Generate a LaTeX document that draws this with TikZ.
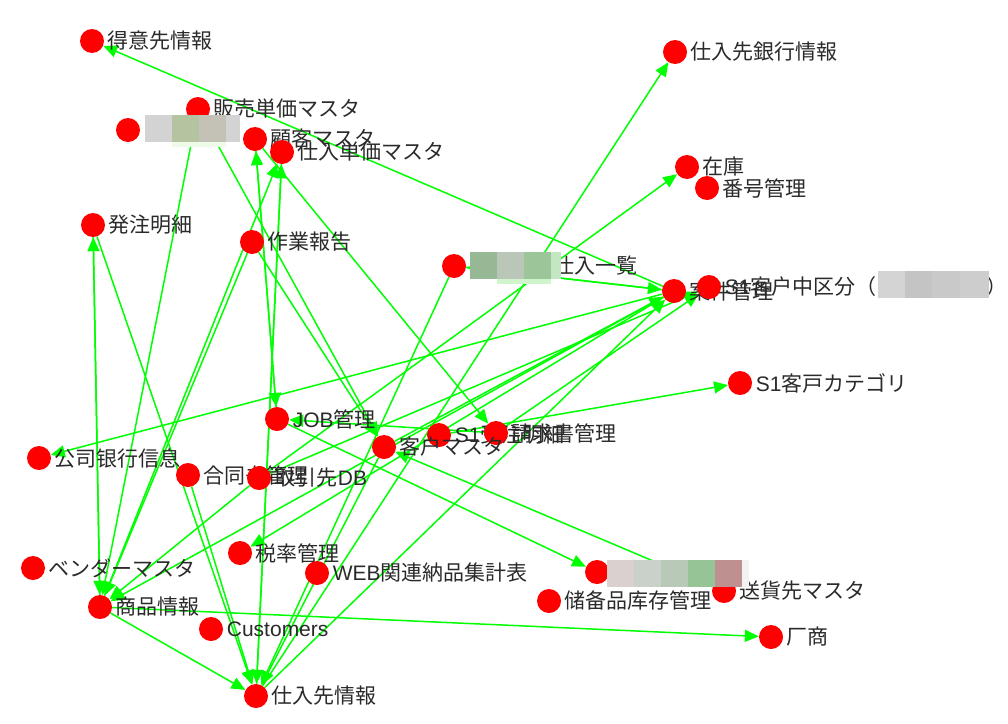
\documentclass[tikz,border=0pt]{standalone}
\usepackage{fontspec}
\setmainfont{Liberation Sans}
\newfontfamily\cjk{Noto Sans CJK JP}
\usetikzlibrary{arrows.meta}
\pgfdeclarelayer{background}
\pgfsetlayers{background,main}
\definecolor{NodeRed}{HTML}{FF0000}
\definecolor{LinkGreen}{HTML}{00FF00}
\definecolor{LabelGray}{HTML}{2A2A2A}
\definecolor{MosaicA1}{HTML}{D3D3D3}
\definecolor{MosaicA2}{HTML}{B5C4A0}
\definecolor{MosaicA3}{HTML}{C4C2B6}
\definecolor{MosaicA4}{HTML}{EEFBE8}
\definecolor{MosaicB1}{HTML}{97B894}
\definecolor{MosaicB2}{HTML}{BAC7B8}
\definecolor{MosaicB3}{HTML}{9DC59A}
\definecolor{MosaicB4}{HTML}{C5E6C2}
\definecolor{MosaicB5}{HTML}{D0F5CC}
\definecolor{MosaicC1}{HTML}{D4D4D4}
\definecolor{MosaicC2}{HTML}{C4C4C4}
\definecolor{MosaicC3}{HTML}{C9C9C9}
\definecolor{MosaicC4}{HTML}{CDCDCD}
\definecolor{MosaicD1}{HTML}{DAD0D0}
\definecolor{MosaicD2}{HTML}{CAD1CA}
\definecolor{MosaicD3}{HTML}{B8C9B8}
\definecolor{MosaicD4}{HTML}{97C497}
\definecolor{MosaicD5}{HTML}{BF9090}
\definecolor{MosaicD6}{HTML}{F2F2F2}
\newcommand\lat[1]{{\rmfamily #1}}

\begin{document}
\begin{tikzpicture}[x=1pt,y=-1pt,label distance=3.5pt,
  ent/.style={circle,fill=NodeRed,minimum size=24pt,inner sep=0pt},
  lbl/.style={font=\cjk\fontsize{21pt}{21pt}\selectfont,text=LabelGray,inner sep=0pt},
  link/.style={draw=LinkGreen,line width=1.5pt,-{Triangle[length=14pt,width=12pt]}}]
\useasboundingbox (0,0) rectangle (1008,723);
\node [ent,label={[lbl]right:得意先情報}] (tokui) at (92,41) {};
\node [ent,label={[lbl]right:販売単価マスタ}] (hanbai) at (198,109) {};
\node [ent] (blurA) at (128,130) {};
\node [ent,label={[lbl]right:顧客マスタ}] (kokyaku) at (255,139) {};
\node [ent,label={[lbl]right:仕入単価マスタ}] (tanka) at (282,152) {};
\node [ent,label={[lbl]right:仕入先銀行情報}] (ginko) at (675,52) {};
\node [ent,label={[lbl]right:在庫}] (zaiko) at (687,167) {};
\node [ent,label={[lbl]right:番号管理}] (bangou) at (707,188) {};
\node [ent,label={[lbl]right:発注明細}] (hacchu) at (93,225) {};
\node [ent,label={[lbl]right:作業報告}] (sagyo) at (252,242) {};
\node [ent,label={[lbl]right:{\hspace{84pt}仕入一覧}}] (ichiran) at (454,266) {};
\node [ent,label={[lbl]right:案件管理}] (anken) at (674,291) {};
\node [ent,label={[lbl]right:{\lat{S1}客户中区分（\hspace{110pt}）}}] (kubun) at (709,287) {};
\node [ent,label={[lbl]right:{\lat{S1}客戸カテゴリ}}] (category) at (740,383) {};
\node [ent,label={[lbl]right:{\lat{JOB}管理}}] (job) at (277,419) {};
\node [ent,label={[lbl]right:{\lat{S1}受注明細}}] (juchu) at (439,435) {};
\node [ent,label={[lbl]right:請求書管理}] (seikyu) at (496,433) {};
\node [ent,label={[lbl]right:客户マスタ}] (kyakuCN) at (384,447) {};
\node [ent,label={[lbl]right:公司银行信息}] (koushi) at (39,458) {};
\node [ent,label={[lbl]right:合同书管理}] (goudou) at (188,475) {};
\node [ent,label={[lbl]right:{取引先\lat{DB}}}] (torihiki) at (259,478) {};
\node [ent,label={[lbl]right:ベンダーマスタ}] (vendor) at (33,568) {};
\node [ent,label={[lbl]right:税率管理}] (zeiritsu) at (240,553) {};
\node [ent,label={[lbl]right:{\lat{WEB}関連納品集計表}}] (web) at (317,573) {};
\node [ent,label={[lbl]right:商品情報}] (shohin) at (100,607) {};
\node [ent,label={[lbl]right:{\lat{Customers}}}] (customers) at (211,629) {};
\node [ent,label={[lbl]right:仕入先情報}] (shiire) at (256,696) {};
\node [ent] (blurB) at (597,572) {};
\node [ent,label={[lbl]right:储备品库存管理}] (bichiku) at (549,601) {};
\node [ent,label={[lbl]right:送貨先マスタ}] (souka) at (724,591) {};
\node [ent,label={[lbl]right:厂商}] (kosho) at (771,637) {};
% links behind the nodes
\begin{pgfonlayer}{background}
\draw [link] (anken) -- (tokui);
\draw [link] (hanbai) -- (kyakuCN);
\draw [link] (hanbai) -- (shohin);
\draw [link] (shiire) -- (ginko);
\draw [link] (torihiki) -- (zaiko);
\draw [link] (ichiran) -- (anken);
\draw [link] (anken) -- (ichiran);
\draw [link] (ichiran) -- (shiire);
\draw [link] (kokyaku) -- (seikyu);
\draw [link] (shohin) -- (tanka);
\draw [link] (shiire) -- (tanka);
\draw [link] (tanka) -- (shiire);
\draw [link] (job) -- (kokyaku);
\draw [link] (kokyaku) -- (job);
\draw [link] (sagyo) -- (kyakuCN);
\draw [link] (sagyo) -- (shohin);
\draw [link] (seikyu) -- (job);
\draw [link] (juchu) -- (category);
\draw [link] (anken) -- (koushi);
\draw [link] (anken) -- (zeiritsu);
\draw [link] (anken) -- (shohin);
\draw [link] (kyakuCN) -- (anken);
\draw [link] (kyakuCN) -- (shiire);
\draw [link] (torihiki) -- (kubun);
\draw [link] (seikyu) -- (kubun);
\draw [link] (shiire) -- (anken);
\draw [link] (job) -- (blurB);
\draw [link] (souka) -- (kyakuCN);
\draw [link] (shohin) -- (kosho);
\draw [link] (shohin) -- (shiire);
\draw [link] (goudou) -- (shiire);
\draw [link] (hacchu) -- (shiire);
\draw [link] (shohin) -- (hacchu);
\draw [link] (hacchu) -- (shohin);
\draw [link] (torihiki) -- (shohin);
\end{pgfonlayer}
% mosaic over hidden label parts
\fill [MosaicA1] (145,115) rectangle (172,142);
\fill [MosaicA2] (172,115) rectangle (199,142);
\fill [MosaicA3] (199,115) rectangle (226,142);
\fill [MosaicA1] (226,115) rectangle (240,142);
\fill [MosaicA4] (172,142) rectangle (226,147);
\fill [MosaicB1] (470,252) rectangle (497,279);
\fill [MosaicB2] (497,252) rectangle (524,279);
\fill [MosaicB3] (524,252) rectangle (551,279);
\fill [MosaicB4] (551,252) rectangle (561,279);
\fill [MosaicB5] (497,279) rectangle (551,284);
\fill [MosaicC1] (878,271) rectangle (905,298);
\fill [MosaicC2] (905,271) rectangle (932,298);
\fill [MosaicC3] (932,271) rectangle (960,298);
\fill [MosaicC4] (960,271) rectangle (989,298);
\fill [MosaicD1] (607,560) rectangle (634,587);
\fill [MosaicD2] (634,560) rectangle (661,587);
\fill [MosaicD3] (661,560) rectangle (688,587);
\fill [MosaicD4] (688,560) rectangle (715,587);
\fill [MosaicD5] (715,560) rectangle (742,587);
\fill [MosaicD6] (742,560) rectangle (749,587);
\end{tikzpicture}
\end{document}
